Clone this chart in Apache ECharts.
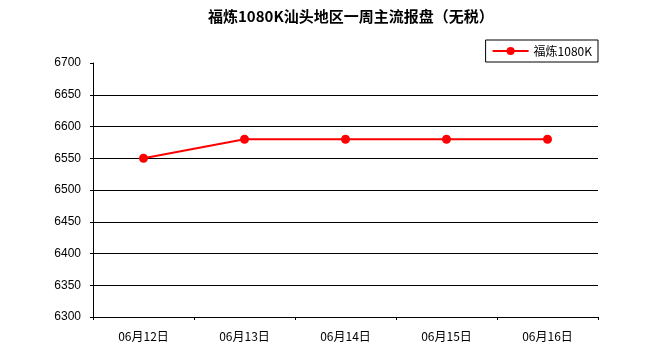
<!DOCTYPE html>
<html><head><meta charset="utf-8">
<script src="https://cdn.jsdelivr.net/npm/echarts@6/dist/echarts.min.js"></script>
<style>html,body{margin:0;padding:0;background:#fff}#c{width:659px;height:352px}</style>
</head><body><div id="c"></div>
<script>
const titleText = '福炼1080K汕头地区一周主流报盘（无税）';
const seriesName = '福炼1080K';
const categories = ['06月12日','06月13日','06月14日','06月15日','06月16日'];
const values = [6550, 6580, 6580, 6580, 6580];
const yMin = 6300, yMax = 6700, yStep = 50;

const nLines = Math.round((yMax - yMin) / yStep) + 1;
const gridColors = [];
for (let i = 0; i < nLines; i++) gridColors.push(i === nLines - 1 ? 'rgba(0,0,0,0)' : '#000');

const chart = echarts.init(document.getElementById('c'));
chart.setOption({
  backgroundColor: '#ffffff',
  animation: false,
  title: {
    text: titleText, left: 203, top: 4,
    textStyle: {fontSize: 15, fontWeight: 'bold', color: '#000', fontFamily: 'Noto Sans CJK SC'}
  },
  legend: {
    data: [seriesName], right: 61, top: 40,
    borderColor: '#000', borderWidth: 1, padding: [5, 6, 5, 6],
    itemWidth: 36, itemHeight: 10, itemGap: 4,
    textStyle: {fontSize: 12, color: '#000', fontFamily: 'Noto Sans CJK SC'}
  },
  grid: {left: 93, right: 61, top: 63, bottom: 35, containLabel: false},
  xAxis: {
    type: 'category', data: categories, boundaryGap: true,
    axisLine: {lineStyle: {color: '#000', width: 1}},
    axisTick: {show: true, inside: false, length: 3, lineStyle: {color: '#000'}},
    axisLabel: {color: '#000', fontSize: 12, margin: 13, fontFamily: 'Noto Sans CJK SC'},
    splitLine: {show: false}
  },
  yAxis: {
    type: 'value', min: yMin, max: yMax, interval: yStep,
    axisLine: {show: true, lineStyle: {color: '#000', width: 1}},
    axisTick: {show: true, length: 3, lineStyle: {color: '#000'}},
    axisLabel: {color: '#000', fontSize: 12, margin: 12, fontFamily: 'Liberation Sans',
      formatter: v => String(v)},
    splitLine: {show: true, lineStyle: {color: gridColors, width: 1}}
  },
  series: [{
    name: seriesName, type: 'line', data: values,
    lineStyle: {color: '#ff0000', width: 2},
    itemStyle: {color: '#ff0000'},
    symbol: 'circle', symbolSize: 9
  }]
});
</script></body></html>
